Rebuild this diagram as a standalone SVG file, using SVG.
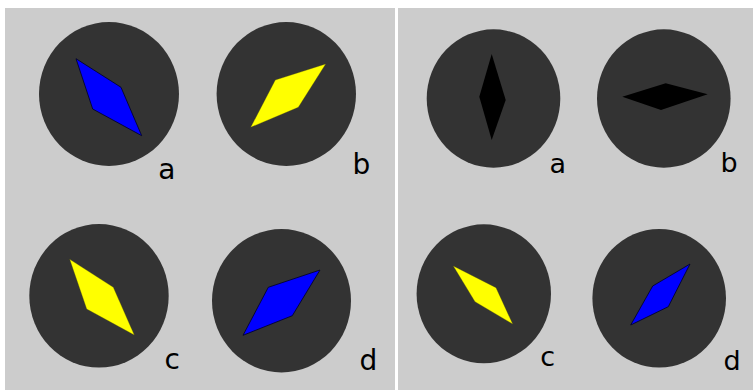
<svg xmlns="http://www.w3.org/2000/svg" width="753" height="390" viewBox="0 0 753 390">
<style>
.panel{fill:#cccccc}
.dial{fill:#333333}
.blue{fill:#0000ff;stroke:#000022;stroke-width:0.8;stroke-linejoin:round}
.yellow{fill:#ffff00;stroke:#555500;stroke-width:0.3}
.black{fill:#000000}
.lbl{font-family:"DejaVu Sans",Verdana,sans-serif;fill:#000000}
.l{font-size:28px}
.r{font-size:27px}
</style>
<rect x="0" y="0" width="753" height="390" fill="#ffffff"/>
<rect class="panel" x="5" y="8" width="390" height="382"/>
<rect class="panel" x="398" y="8" width="355" height="382"/>

<g id="left-a">
<ellipse class="dial" cx="109" cy="94" rx="70" ry="72"/>
<polygon class="blue" points="76,58.7 121,87.3 141.7,135.7 92.7,109"/>
<text class="lbl l" x="158.3" y="179">a</text>
</g>
<g id="left-b">
<ellipse class="dial" cx="286.3" cy="94" rx="69.7" ry="72"/>
<polygon class="yellow" points="325.7,64 298.3,107.3 250.7,127.3 275.3,80"/>
<text class="lbl l" x="352.5" y="174">b</text>
</g>
<g id="left-c">
<ellipse class="dial" cx="99" cy="295.8" rx="69.7" ry="71.8"/>
<polygon class="yellow" points="69.7,259.3 113.3,287.3 134.3,335 86.7,309"/>
<text class="lbl l" x="164.5" y="369">c</text>
</g>
<g id="left-d">
<ellipse class="dial" cx="281.5" cy="300.7" rx="69.5" ry="71.7"/>
<polygon class="blue" points="320,270 292.3,315.7 243,335.3 268.3,287.3"/>
<text class="lbl l" x="359.5" y="370">d</text>
</g>

<g id="right-a">
<ellipse class="dial" cx="493.5" cy="98.5" rx="66.8" ry="69.2"/>
<polygon class="black" points="491.7,54 505.7,100 491.7,140 479.3,96.7"/>
<text class="lbl r" x="549.5" y="172.5">a</text>
</g>
<g id="right-b">
<ellipse class="dial" cx="663.8" cy="98.5" rx="66.8" ry="69.2"/>
<polygon class="black" points="622.3,96.7 665.7,83.3 707.7,94.3 661,110"/>
<text class="lbl r" x="720.5" y="172">b</text>
</g>
<g id="right-c">
<ellipse class="dial" cx="483.8" cy="293.8" rx="67.2" ry="69.5"/>
<polygon class="yellow" points="453.3,266 496,287.7 512.7,324 475,301.7"/>
<text class="lbl r" x="540.3" y="365.5">c</text>
</g>
<g id="right-d">
<ellipse class="dial" cx="659.2" cy="298.3" rx="66.8" ry="69.3"/>
<polygon class="blue" points="690,264 668.3,306.7 630.7,325 652.7,286"/>
<text class="lbl r" x="723.6" y="370">d</text>
</g>
<g id="connectors"></g>
</svg>
